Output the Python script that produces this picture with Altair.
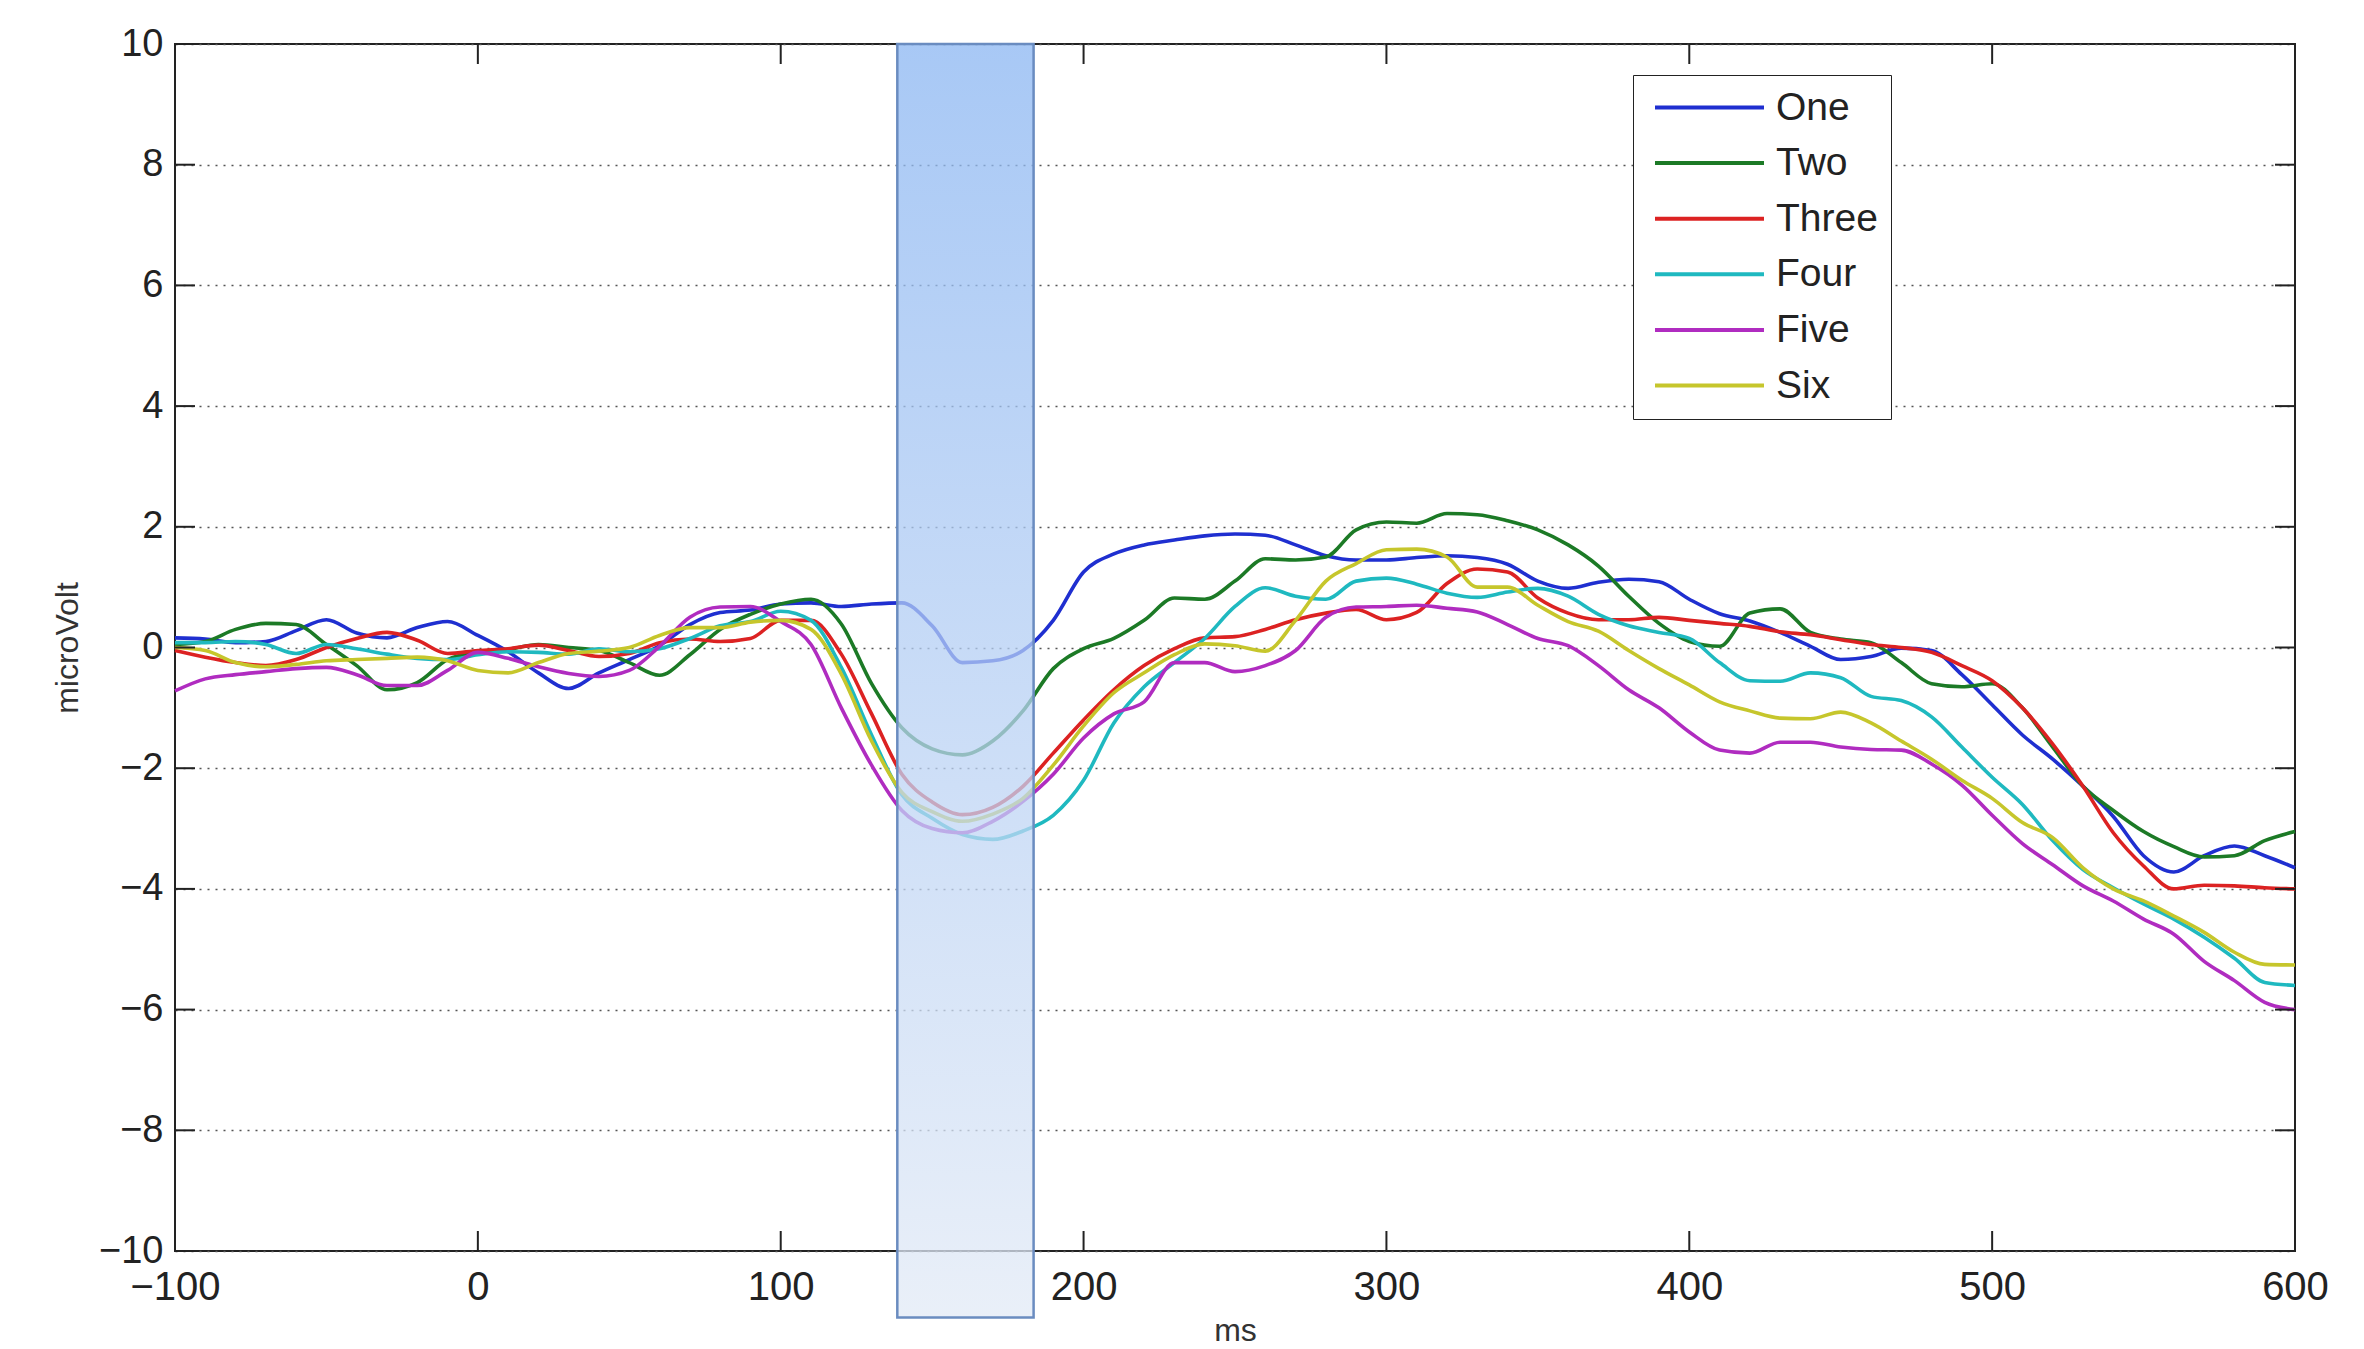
import altair as alt
import pandas as pd

# ---------------- data ----------------
ms = list(range(-100, 601, 10))

one = [0.16, 0.14, 0.08, 0.10, 0.28, 0.46, 0.24, 0.16, 0.33, 0.43,
       0.20, -0.07, -0.42, -0.68, -0.42, -0.20, 0.03, 0.38, 0.58, 0.62,
       0.72, 0.74, 0.68, 0.72, 0.74, 0.36, -0.25, -0.22, -0.05, 0.45,
       1.25, 1.55, 1.70, 1.78, 1.85, 1.88, 1.86, 1.70, 1.52, 1.45,
       1.45, 1.49, 1.52, 1.49, 1.38, 1.10, 0.98, 1.08, 1.13, 1.09,
       0.80, 0.56, 0.44, 0.25, 0.02, -0.20, -0.15, -0.01, -0.05, -0.45,
       -0.95, -1.45, -1.85, -2.30, -2.80, -3.45, -3.72, -3.45, -3.29, -3.45,
       -3.65]

two = [0.05, 0.10, 0.30, 0.40, 0.38, 0.05, -0.30, -0.70, -0.58, -0.20,
       -0.08, -0.03, 0.05, 0.00, -0.05, -0.25, -0.46, -0.12, 0.30, 0.55,
       0.72, 0.80, 0.39, -0.60, -1.33, -1.68, -1.78, -1.55, -1.05, -0.35,
       -0.02, 0.15, 0.45, 0.82, 0.80, 1.10, 1.47, 1.45, 1.50, 1.95,
       2.08, 2.06, 2.22, 2.20, 2.10, 1.95, 1.70, 1.35, 0.85, 0.40,
       0.10, 0.02, 0.57, 0.64, 0.25, 0.14, 0.08, -0.25, -0.60, -0.65,
       -0.60, -1.00, -1.65, -2.30, -2.70, -3.05, -3.30, -3.47, -3.45, -3.20,
       -3.05]

three = [-0.05, -0.16, -0.25, -0.30, -0.20, 0.00, 0.15, 0.25, 0.12, -0.10,
         -0.05, -0.02, 0.04, -0.05, -0.15, -0.10, 0.08, 0.14, 0.10, 0.15,
         0.45, 0.45, -0.11, -1.10, -2.10, -2.56, -2.77, -2.65, -2.30, -1.75,
         -1.20, -0.70, -0.30, -0.02, 0.16, 0.18, 0.30, 0.46, 0.57, 0.63,
         0.46, 0.58, 1.06, 1.30, 1.25, 0.82, 0.57, 0.46, 0.46, 0.50,
         0.45, 0.40, 0.35, 0.26, 0.21, 0.13, 0.05, 0.00, -0.08, -0.30,
         -0.55, -1.00, -1.60, -2.30, -3.07, -3.62, -4.00, -3.94, -3.95, -3.98,
         -4.00]

four = [0.08, 0.08, 0.10, 0.05, -0.10, 0.05, -0.02, -0.11, -0.18, -0.20,
        -0.12, -0.07, -0.08, -0.11, -0.02, -0.07, -0.02, 0.15, 0.36, 0.43,
        0.60, 0.45, -0.33, -1.45, -2.44, -2.83, -3.10, -3.18, -3.04, -2.78,
        -2.20, -1.25, -0.65, -0.25, 0.15, 0.68, 0.99, 0.85, 0.80, 1.10,
        1.15, 1.05, 0.90, 0.83, 0.92, 0.98, 0.85, 0.55, 0.36, 0.25,
        0.15, -0.25, -0.55, -0.56, -0.42, -0.50, -0.81, -0.88, -1.15, -1.65,
        -2.15, -2.60, -3.20, -3.68, -3.98, -4.25, -4.50, -4.80, -5.15, -5.55,
        -5.60]

five = [-0.72, -0.52, -0.45, -0.40, -0.35, -0.33, -0.45, -0.63, -0.63, -0.38,
        -0.08, -0.18, -0.32, -0.43, -0.48, -0.38, 0.02, 0.50, 0.67, 0.68,
        0.43, 0.05, -1.00, -1.95, -2.70, -3.00, -3.07, -2.88, -2.55, -2.10,
        -1.50, -1.10, -0.90, -0.25, -0.25, -0.40, -0.30, -0.05, 0.50, 0.67,
        0.68, 0.70, 0.65, 0.59, 0.38, 0.15, 0.03, -0.30, -0.70, -1.00,
        -1.40, -1.70, -1.75, -1.57, -1.57, -1.65, -1.69, -1.70, -1.93, -2.28,
        -2.78, -3.25, -3.60, -3.95, -4.20, -4.50, -4.75, -5.20, -5.52, -5.88,
        -6.00]

six = [0.00, -0.05, -0.25, -0.32, -0.28, -0.22, -0.20, -0.18, -0.16, -0.22,
       -0.38, -0.42, -0.25, -0.10, -0.06, 0.00, 0.20, 0.33, 0.33, 0.42,
       0.45, 0.30, -0.44, -1.55, -2.40, -2.72, -2.88, -2.76, -2.50, -1.95,
       -1.30, -0.75, -0.42, -0.12, 0.06, 0.03, -0.06, 0.45, 1.10, 1.39,
       1.62, 1.63, 1.50, 1.00, 1.00, 0.70, 0.43, 0.27, -0.05, -0.35,
       -0.62, -0.90, -1.05, -1.17, -1.18, -1.07, -1.25, -1.55, -1.85, -2.20,
       -2.50, -2.90, -3.15, -3.65, -4.00, -4.20, -4.45, -4.72, -5.05, -5.25,
       -5.26]

series_names = ["One", "Two", "Three", "Four", "Five", "Six"]
series_values = [one, two, three, four, five, six]
series_colors = ["#1f2fd0", "#1c7a26", "#dc2222", "#1fb9c0", "#b02cc0", "#c6c62c"]

x_ticks = list(range(-100, 601, 100))
y_ticks = list(range(-10, 11, 2))

band_start = [138.5]
band_end = [183.5]
band_top = [10.0]
band_bottom = [-11.1]

# ---------------- tables ----------------
rows = []
for name, vals in zip(series_names, series_values):
    for t, v in zip(ms, vals):
        rows.append({"ms": t, "uV": v, "series": name})
df = pd.DataFrame(rows)

band_df = pd.DataFrame({"ms": band_start, "ms_end": band_end,
                        "uV": band_top, "uV_end": band_bottom})
xt_df = pd.DataFrame({"ms": x_ticks})
yt_df = pd.DataFrame({"uV": y_ticks})

W, H = 2120, 1207
FONT = "Liberation Sans, Arial, sans-serif"

x_scale = alt.Scale(domain=[-100, 600], nice=False, zero=False)
y_scale = alt.Scale(domain=[-10, 10], nice=False, zero=False)

x_axis = alt.Axis(values=x_ticks, grid=False, ticks=False, domain=False,
                  labelFontSize=40, labelColor="#222", labelPadding=16,
                  labelFlush=False, titleFontSize=32, titleFontWeight="normal",
                  titleColor="#333", titlePadding=8, labelFont=FONT, titleFont=FONT)
y_axis = alt.Axis(values=y_ticks, grid=True, gridDash=[2, 6], gridColor="#555",
                  gridWidth=1.6, ticks=False, domain=False,
                  labelFontSize=38, labelColor="#222", labelPadding=12,
                  labelFlush=False, titleFontSize=32, titleFontWeight="normal",
                  titleColor="#333", titlePadding=14, labelFont=FONT, titleFont=FONT)


def X(field):
    return alt.X(field, scale=x_scale, axis=x_axis, title="ms")


def Y(field):
    return alt.Y(field, scale=y_scale, axis=y_axis, title="microVolt")


# legend symbol: a wide horizontal stroke inside a compact row
LEG_FONT = 39
LEG_SIZE = 35 * 35
LINE_LEN = 109
half = (LINE_LEN / 2) / (35 / 2)
leg_path = f"M{-half:.3f},0L{half:.3f},0"

lines = alt.Chart(df).mark_line(strokeWidth=3.6, interpolate="monotone").encode(
    x=X("ms:Q"),
    y=Y("uV:Q"),
    color=alt.Color(
        "series:N",
        sort=series_names,
        scale=alt.Scale(domain=series_names, range=series_colors),
        title=None,
        legend=alt.Legend(
            orient="none", legendX=1458, legendY=31,
            symbolType=leg_path, symbolSize=LEG_SIZE, symbolStrokeWidth=4,
            symbolOffset=44, labelOffset=47,
            labelFontSize=LEG_FONT, labelFont=FONT, labelColor="#222",
            rowPadding=15.6, padding=13,
            strokeColor="#222", fillColor="white",
        ),
    ),
)

band = alt.Chart(band_df).mark_rect(
    fill=alt.LinearGradient(
        gradient="linear",
        stops=[alt.GradientStop(color="#8bb6f2", offset=0),
               alt.GradientStop(color="#e2eaf6", offset=1)],
        x1=0, x2=0, y1=0, y2=1,
    ),
    fillOpacity=0.75,
    stroke="#6a8cc0",
    strokeWidth=2.5,
).encode(
    x=X("ms:Q"),
    x2="ms_end:Q",
    y=Y("uV:Q"),
    y2="uV_end:Q",
)

tick_style = dict(color="#222", strokeWidth=2)
bottom_ticks = alt.Chart(xt_df).mark_rule(**tick_style).encode(
    x=X("ms:Q"), y=alt.value(H), y2=alt.value(H - 20))
top_ticks = alt.Chart(xt_df).mark_rule(**tick_style).encode(
    x=X("ms:Q"), y=alt.value(0), y2=alt.value(20))
left_ticks = alt.Chart(yt_df).mark_rule(**tick_style).encode(
    y=Y("uV:Q"), x=alt.value(0), x2=alt.value(20))
right_ticks = alt.Chart(yt_df).mark_rule(**tick_style).encode(
    y=Y("uV:Q"), x=alt.value(W), x2=alt.value(W - 20))

chart = alt.layer(
    lines, band, bottom_ticks, top_ticks, left_ticks, right_ticks
).properties(
    width=W, height=H,
    autosize=alt.AutoSizeParams(type="none"),
    padding={"left": 175, "top": 44, "right": 69, "bottom": 98},
).configure(
    font=FONT, background="white"
).configure_view(
    stroke="#222", strokeWidth=2
)

chart.save("out.html", embed_options={"renderer": "svg", "actions": False})
